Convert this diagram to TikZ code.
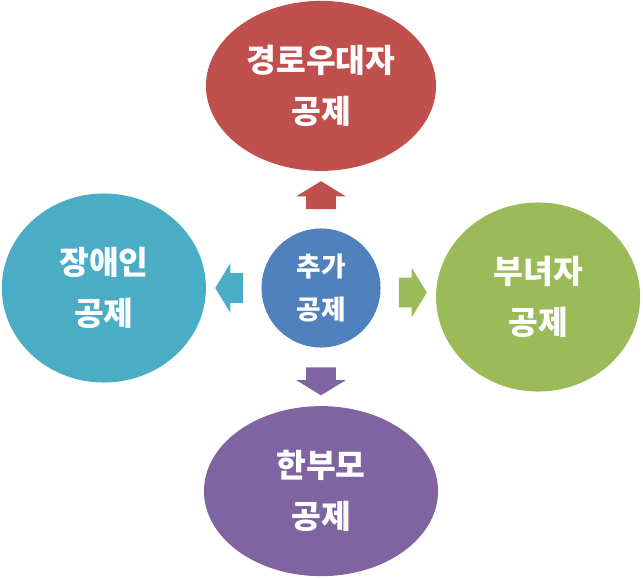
\documentclass[tikz,border=0pt]{standalone}
\usepackage{fontspec}
\usepackage{xcolor}
\usepackage{tikz}
\usetikzlibrary{positioning,shapes.geometric,shapes.arrows,calc}
\newfontfamily\kr{Noto Sans CJK KR}
\definecolor{OfficeRed}{HTML}{C0504D}
\definecolor{OfficeBlue}{HTML}{4F81BD}
\definecolor{OfficeGreen}{HTML}{9BBB59}
\definecolor{OfficePurple}{HTML}{8064A2}
\definecolor{OfficeAqua}{HTML}{4BACC6}

\begin{document}
\begin{tikzpicture}[
  x=0.025cm,y=-0.025cm,
  node distance=1.4cm,
  hub/.style={circle,fill=OfficeBlue,text=white,inner sep=0pt,minimum size=2.975cm,align=center,
    font={\kr\bfseries\fontsize{19pt}{30.5pt}\selectfont}},
  leaf/.style={ellipse,text=white,inner sep=0pt,align=center,
    font={\kr\bfseries\fontsize{23pt}{36pt}\selectfont}},
  blockarrow/.style={single arrow,fill=#1,draw=none,inner xsep=0pt,inner ysep=0.3625cm,
    minimum height=0.7cm,single arrow head extend=0.25cm,single arrow tip angle=117}
]
\useasboundingbox (0,0) rectangle (643,578);
\node[hub] (hub) at (321,288) {추가\\공제};
\node[leaf,fill=OfficeRed,minimum width=5.75cm,minimum height=4.25cm,above=1.425cm of hub] (elder) {경로우대자\\공제};
\node[leaf,fill=OfficeGreen,minimum width=5.1cm,minimum height=4.725cm,right=1.375cm of hub,yshift=-0.225cm] (child) {부녀자\\공제};
\node[leaf,fill=OfficePurple,minimum width=5.85cm,minimum height=4.25cm,below=1.45cm of hub] (single) {한부모\\공제};
\node[leaf,fill=OfficeAqua,minimum width=5.1cm,minimum height=4.725cm,left=1.375cm of hub] (disabled) {장애인\\공제};
% arrows out of the hub
\node[blockarrow=OfficeRed,rotate=90] (toelder) at ($(hub.north)!0.5!(elder.south)$) {};
\node[blockarrow=OfficeGreen] (tochild) at ($(hub.east)!0.5!(child.west)$) {};
\node[blockarrow=OfficePurple,rotate=-90] (tosingle) at ($(hub.south)!0.5!(single.north)$) {};
\node[blockarrow=OfficeAqua,rotate=180] (todisabled) at ($(hub.west)!0.5!(disabled.east)$) {};
\end{tikzpicture}
\end{document}
